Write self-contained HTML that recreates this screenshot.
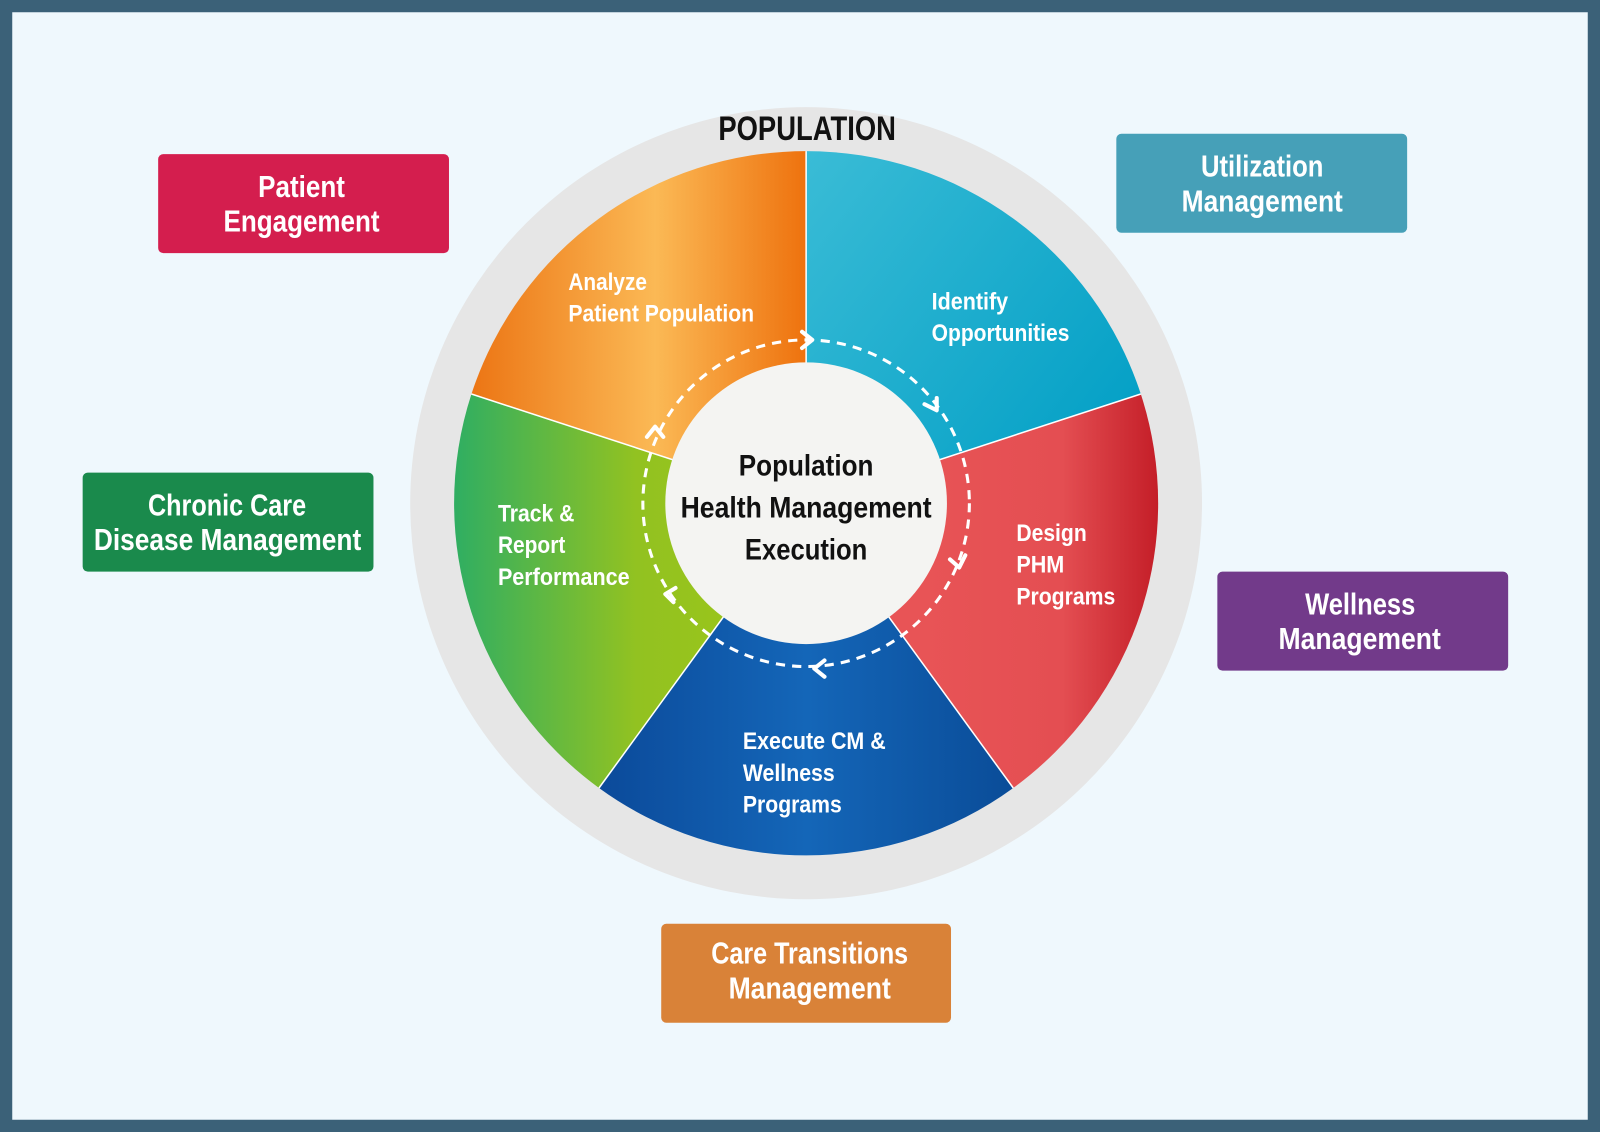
<!DOCTYPE html>
<html><head><meta charset="utf-8"><style>
html,body{margin:0;padding:0;background:#3b6178;}
svg{display:block}
text{font-family:"Liberation Sans",sans-serif;}
</style></head><body>
<svg width="1600" height="1132" viewBox="0 0 1568 1109" preserveAspectRatio="none" xmlns="http://www.w3.org/2000/svg">
<defs>
<linearGradient id="go" gradientUnits="userSpaceOnUse" x1="462" y1="0" x2="790" y2="0">
<stop offset="0" stop-color="#ec7514"/><stop offset="0.55" stop-color="#fbb955"/><stop offset="1" stop-color="#ee720e"/></linearGradient>
<linearGradient id="gc" gradientUnits="userSpaceOnUse" x1="790" y1="148" x2="1118" y2="400">
<stop offset="0" stop-color="#3abcd6"/><stop offset="1" stop-color="#04a0c6"/></linearGradient>
<linearGradient id="gr" gradientUnits="userSpaceOnUse" x1="900" y1="0" x2="1135" y2="0">
<stop offset="0" stop-color="#e85456"/><stop offset="0.6" stop-color="#e44e52"/><stop offset="1" stop-color="#c41e28"/></linearGradient>
<linearGradient id="gb" gradientUnits="userSpaceOnUse" x1="588" y1="0" x2="993" y2="0">
<stop offset="0" stop-color="#0b4a9a"/><stop offset="0.5" stop-color="#1466b8"/><stop offset="1" stop-color="#0a4c98"/></linearGradient>
<linearGradient id="gg" gradientUnits="userSpaceOnUse" x1="445" y1="0" x2="700" y2="0">
<stop offset="0" stop-color="#2fae62"/><stop offset="0.7" stop-color="#92c221"/><stop offset="1" stop-color="#98c41c"/></linearGradient>
</defs>
<rect x="12" y="12" width="1544" height="1085" fill="#eff8fd"/>
<circle cx="790" cy="493" r="388" fill="#e6e6e6"/>
<path d="M790 493 L461.9 386.4 A345 345 0 0 1 790 148 Z" fill="url(#go)"/>
<path d="M790 493 L790 148 A345 345 0 0 1 1118.1 386.4 Z" fill="url(#gc)"/>
<path d="M790 493 L1118.1 386.4 A345 345 0 0 1 992.8 772.1 Z" fill="url(#gr)"/>
<path d="M790 493 L992.8 772.1 A345 345 0 0 1 587.2 772.1 Z" fill="url(#gb)"/>
<path d="M790 493 L587.2 772.1 A345 345 0 0 1 461.9 386.4 Z" fill="url(#gg)"/>
<g stroke="#fff" stroke-width="1.5"><line x1="790" y1="493" x2="790" y2="148"/><line x1="790" y1="493" x2="1118" y2="386"/><line x1="790" y1="493" x2="993" y2="772"/><line x1="790" y1="493" x2="587" y2="772"/><line x1="790" y1="493" x2="462" y2="386"/></g>
<circle cx="790" cy="493" r="160" fill="none" stroke="#fff" stroke-width="3" stroke-dasharray="9 7"/>
<circle cx="790" cy="493" r="138" fill="#f4f4f2"/>
<g fill="none" stroke="#fff" stroke-width="4" stroke-linecap="round" stroke-linejoin="round">
<polyline points="786,325 796,333 786,341"/>
<polyline points="906,396 918,402 918,390"/>
<polyline points="931,548 940,556 946,544"/>
<polyline points="808,647 798,655 808,663"/>
<polyline points="662,576 652,582 660,590"/>
<polyline points="634,428 642,418 650,428"/>
</g>
<text x="704" y="137" textLength="174" lengthAdjust="spacingAndGlyphs" font-size="34" font-weight="bold" fill="#111">POPULATION</text>
<g font-size="29" font-weight="bold" fill="#111">
<text x="724" y="466" textLength="132" lengthAdjust="spacingAndGlyphs">Population</text>
<text x="667" y="507" textLength="246" lengthAdjust="spacingAndGlyphs">Health Management</text>
<text x="730" y="548" textLength="120" lengthAdjust="spacingAndGlyphs">Execution</text></g>
<g font-size="24" fill="#fff" font-weight="bold" lengthAdjust="spacingAndGlyphs">
<text x="557" y="284" textLength="77" lengthAdjust="spacingAndGlyphs">Analyze</text><text x="557" y="315" textLength="182" lengthAdjust="spacingAndGlyphs">Patient Population</text>
<text x="913" y="303" textLength="75" lengthAdjust="spacingAndGlyphs">Identify</text><text x="913" y="334" textLength="135" lengthAdjust="spacingAndGlyphs">Opportunities</text>
<text x="996" y="530" textLength="69" lengthAdjust="spacingAndGlyphs">Design</text><text x="996" y="561" textLength="47" lengthAdjust="spacingAndGlyphs">PHM</text><text x="996" y="592" textLength="97" lengthAdjust="spacingAndGlyphs">Programs</text>
<text x="728" y="734" textLength="140" lengthAdjust="spacingAndGlyphs">Execute CM &amp;</text><text x="728" y="765" textLength="90" lengthAdjust="spacingAndGlyphs">Wellness</text><text x="728" y="796" textLength="97" lengthAdjust="spacingAndGlyphs">Programs</text>
<text x="488" y="511" textLength="75" lengthAdjust="spacingAndGlyphs">Track &amp;</text><text x="488" y="542" textLength="66" lengthAdjust="spacingAndGlyphs">Report</text><text x="488" y="573" textLength="129" lengthAdjust="spacingAndGlyphs">Performance</text>
</g>
<g font-size="30" fill="#fff" font-weight="bold">
<rect x="155" y="151" width="285" height="97" rx="5" fill="#d41e4e"/>
<text x="253" y="193" textLength="85" lengthAdjust="spacingAndGlyphs">Patient</text><text x="219" y="227" textLength="153" lengthAdjust="spacingAndGlyphs">Engagement</text>
<rect x="1094" y="131" width="285" height="97" rx="5" fill="#46a0b8"/>
<text x="1177" y="173" textLength="120" lengthAdjust="spacingAndGlyphs">Utilization</text><text x="1158" y="207" textLength="158" lengthAdjust="spacingAndGlyphs">Management</text>
<rect x="81" y="463" width="285" height="97" rx="5" fill="#1a8a4c"/>
<text x="145" y="505" textLength="155" lengthAdjust="spacingAndGlyphs">Chronic Care</text><text x="92" y="539" textLength="262" lengthAdjust="spacingAndGlyphs">Disease Management</text>
<rect x="1193" y="560" width="285" height="97" rx="5" fill="#723a8a"/>
<text x="1279" y="602" textLength="108" lengthAdjust="spacingAndGlyphs">Wellness</text><text x="1253" y="636" textLength="159" lengthAdjust="spacingAndGlyphs">Management</text>
<rect x="648" y="905" width="284" height="97" rx="5" fill="#d98238"/>
<text x="697" y="944" textLength="193" lengthAdjust="spacingAndGlyphs">Care Transitions</text><text x="714" y="978" textLength="159" lengthAdjust="spacingAndGlyphs">Management</text>
</g>
</svg>
</body></html>
